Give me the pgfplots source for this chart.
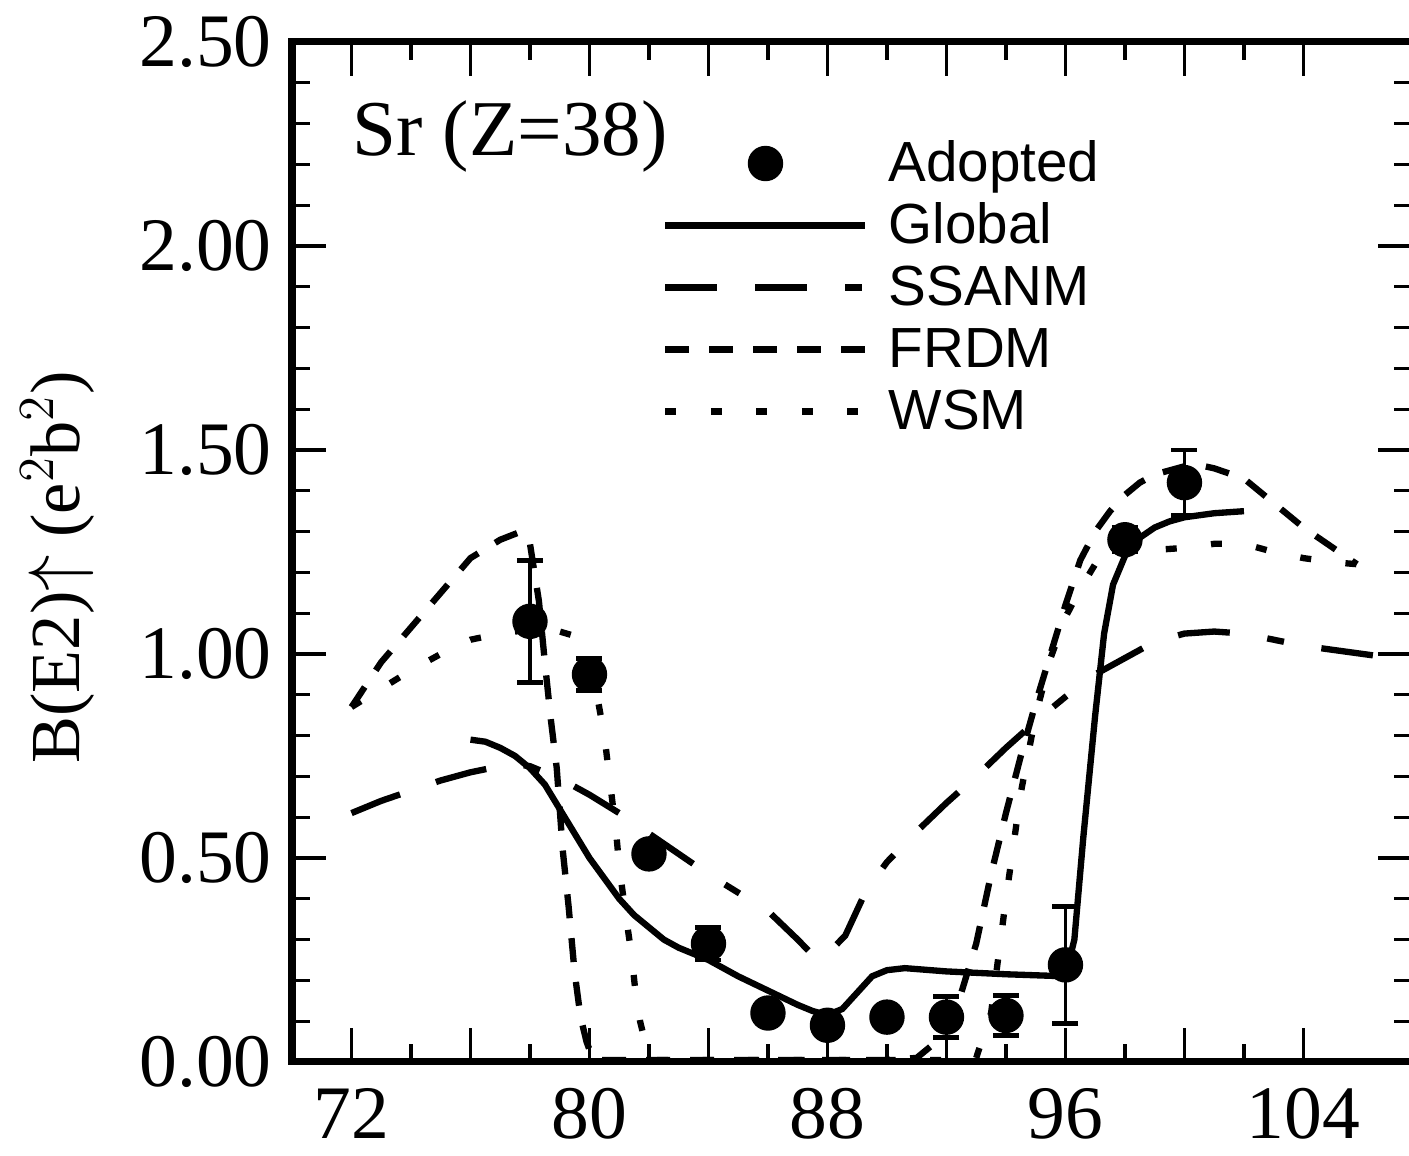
\documentclass[border=0pt]{standalone}
\usepackage{fontspec}
\setmainfont{Liberation Serif}
\newfontfamily\sansf{Liberation Sans}
\usepackage{pgfplots}
\pgfplotsset{compat=1.18}
\pgfplotsset{
  lineleg/.style={legend image code/.code={\draw[##1] (0cm,0.04cm) -- (2cm,0.04cm);}},
  markleg/.style={legend image code/.code={\path[draw=none,fill=none] (0cm,0.04cm) -- (2cm,0.04cm); \draw[##1] plot coordinates {(1cm,0.04cm)};}},
}
\begin{document}
\begin{tikzpicture}
\begin{axis}[
  at={(0,0)}, anchor=south west,
  scale only axis, width=11.20cm, height=10.20cm,
  xmin=70, xmax=107.65, ymin=0, ymax=2.5,
  axis line style={line width=2pt},
  xtick={72,76,...,104}, xticklabels={72,,80,,88,,96,,104},
  minor x tick num=1,
  ytick={0,0.5,1,1.5,2,2.5}, yticklabels={0.00,0.50,1.00,1.50,2.00,2.50},
  minor y tick num=4,
  major tick length=0.34cm, minor tick length=0.18cm,
  every tick/.style={black, line width=0.9pt},
  tick label style={font=\fontsize{21.5}{25}\selectfont},
  xticklabel style={yshift=-0.14cm},
  yticklabel style={xshift=-0.08cm},
  ylabel={B(E2)$\uparrow$ (e$^2$b$^2$)},
  ylabel style={font=\fontsize{20}{24}\selectfont, at={(axis description cs:-0.209,0.485)}, anchor=center},
  legend cell align=left,
  legend style={at={(axis description cs:0.3206,0.91)}, anchor=north west, draw=none, fill=none,
    font=\sansf\fontsize{16.1}{19}\selectfont, row sep=0.10cm,
    nodes={inner sep=0pt, text height=0.40cm, text depth=0.12cm},
    /tikz/every odd column/.append style={column sep=0.2cm}},
]
\addplot[only marks, mark=*, mark size=0.17cm, black, markleg,
  error bars/.cd, y dir=both, y explicit,
  error bar style={line width=0.9pt},
  error mark options={line width=1.4pt, mark size=0.13cm, rotate=90}]
  coordinates {
  (78,1.08) +- (0,0.15)
  (80,0.95) +- (0,0.04)
  (82,0.51) +- (0,0.02)
  (84,0.29) +- (0,0.04)
  (86,0.12) +- (0,0.02)
  (88,0.09) +- (0,0.02)
  (90,0.11) +- (0,0.02)
  (92,0.11) +- (0,0.05)
  (94,0.114) +- (0,0.048)
  (96,0.238) +- (0,0.143)
  (98,1.28) +- (0,0.03)
  (100,1.42) +- (0,0.08)
  };
\addlegendentry{Adopted}
\addplot[black, line width=1.8pt, lineleg]
  coordinates {
  (76,0.79) (76.5,0.785) (77,0.77) (77.5,0.75) (78,0.72) (78.5,0.68) (79,0.62) (79.5,0.56)
  (80,0.50) (80.5,0.45) (81,0.40) (81.5,0.36) (82,0.33) (82.5,0.30) (83,0.28) (83.5,0.265)
  (84,0.25) (85,0.21) (86,0.175) (87,0.14) (87.5,0.125) (88,0.115) (88.5,0.13) (89,0.17)
  (89.5,0.21) (90,0.225) (90.6,0.23) (92,0.222) (94,0.215) (96,0.21) (96.3,0.30) (96.6,0.55)
  (97,0.85) (97.3,1.05) (97.6,1.17) (98,1.24) (98.5,1.285) (99,1.31) (99.5,1.325) (100,1.335)
  (101,1.345) (102,1.35)
  };
\addlegendentry{Global}
\addplot[black, line width=1.8pt, lineleg,
  dash pattern=on 0.52cm off 0.38cm on 0.52cm off 0.38cm on 0.17cm off 0.38cm]
  coordinates {
  (72,0.61) (73,0.64) (74,0.665) (75,0.69) (76,0.71) (77,0.725) (77.5,0.73) (78,0.725)
  (79,0.695) (80,0.655) (81,0.61) (82,0.56) (83,0.51) (84,0.46) (85,0.415) (86,0.37)
  (87,0.30) (87.4,0.27) (87.8,0.25) (88.6,0.31) (89.3,0.42) (90,0.49) (91,0.565) (92,0.635)
  (93,0.70) (94,0.77) (95,0.835) (96,0.895) (97,0.95) (98,0.99) (99,1.03) (100,1.05)
  (101,1.055) (102,1.05) (103,1.035) (104,1.02) (105,1.01) (106,1.0) (107,0.99)
  };
\addlegendentry{SSANM}
\addplot[black, line width=1.8pt, lineleg, dash pattern=on 0.24cm off 0.20cm]
  coordinates {
  (72,0.87) (73,0.98) (74,1.065) (75,1.15) (76,1.235) (77,1.28) (77.7,1.30) (78,1.27)
  (78.3,1.13) (78.5,0.98) (78.7,0.84) (78.9,0.72) (79.1,0.52) (79.3,0.38) (79.5,0.22)
  (79.7,0.11) (79.9,0.05) (80.1,0.01) (80.4,0.005) (84,0.005) (88,0.005) (90,0.005)
  (91,0.01) (91.5,0.04) (92,0.09) (92.5,0.17) (93,0.29) (93.5,0.46) (94,0.61) (94.5,0.75)
  (95,0.88) (95.5,1.0) (96,1.12) (96.5,1.23) (97,1.30) (97.5,1.35) (98,1.39) (98.5,1.42)
  (99,1.44) (100,1.46) (100.5,1.463) (101,1.455) (102,1.43) (103,1.37) (104,1.31) (105,1.26)
  (105.8,1.22)
  };
\addlegendentry{FRDM}
\addplot[black, line width=1.8pt, lineleg, dash pattern=on 0.11cm off 0.345cm]
  coordinates {
  (72,0.87) (73,0.915) (74,0.96) (75,1.0) (76,1.035) (77,1.05) (78,1.06) (79,1.055)
  (79.7,1.04) (80,1.0) (80.3,0.88) (80.5,0.80) (80.7,0.68) (80.9,0.56) (81.0,0.48)
  (81.2,0.37) (81.4,0.27) (81.55,0.17) (81.7,0.10) (81.9,0.04) (82.2,0.005) (86,0.005)
  (90,0.005) (92.5,0.005) (93,0.01) (93.5,0.12) (94,0.40) (94.5,0.66) (95,0.85) (95.5,0.99)
  (96,1.09) (96.5,1.16) (97,1.22) (97.5,1.26) (98,1.27) (98.5,1.26) (99,1.255) (100,1.26)
  (101,1.27) (102,1.27) (103,1.25) (104,1.235) (105,1.225) (105.8,1.22)
  };
\addlegendentry{WSM}
\node[anchor=base west, inner sep=0pt, font=\fontsize{22.5}{26}\selectfont] at (rel axis cs:0.0537,0.889) {Sr (Z=38)};
\end{axis}
\pgfresetboundingbox
\useasboundingbox (-2.92cm,-0.94cm) rectangle (11.17cm,10.62cm);
\end{tikzpicture}
\end{document}
